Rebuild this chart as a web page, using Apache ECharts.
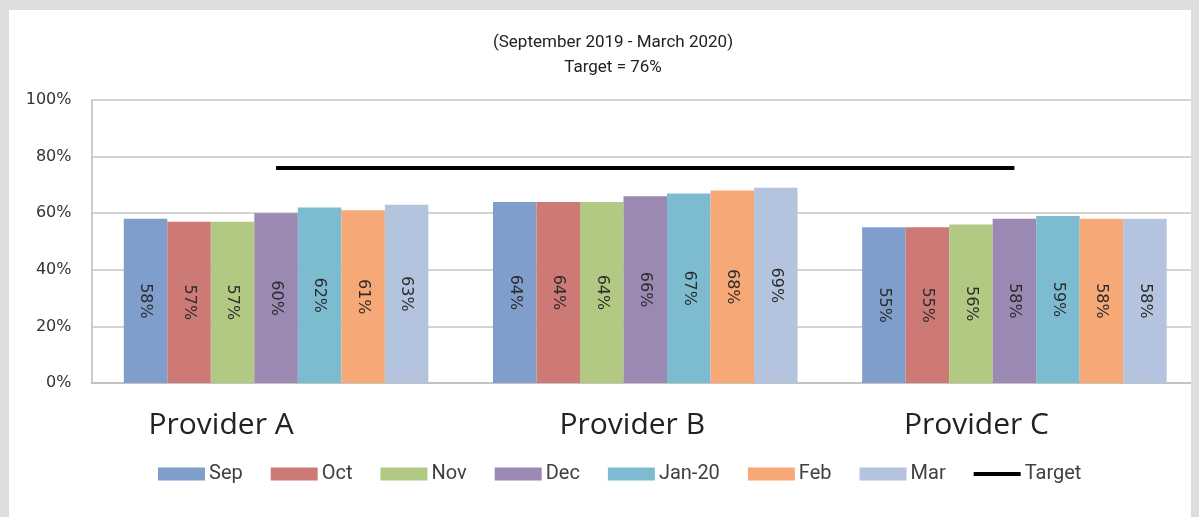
<!DOCTYPE html>
<html>
<head>
<meta charset="utf-8">
<script src="https://cdn.jsdelivr.net/npm/echarts@6/dist/echarts.min.js"></script>
<style>
  html, body { margin: 0; padding: 0; background: #dcdddf; }
  .panel {
    position: absolute; left: 9px; top: 10px; width: 1182px; height: 507px;
    background: #fff; overflow: hidden;
  }
  #chart { position: absolute; left: -9px; top: -10px; width: 1199px; height: 517px; }
</style>
</head>
<body>
<div class="panel"><div id="chart"></div></div>
<script>
const categories = ['Provider A', 'Provider B', 'Provider C']
const months = ['Sep', 'Oct', 'Nov', 'Dec', 'Jan-20', 'Feb', 'Mar']
const sep = [58, 64, 55]
const oct = [57, 64, 55]
const nov = [57, 64, 56]
const dec = [60, 66, 58]
const jan = [62, 67, 59]
const feb = [61, 68, 58]
const mar = [63, 69, 58]
const target = [76, 76, 76]
const monthValues = [sep, oct, nov, dec, jan, feb, mar]
const colors = ['#7f9ecb', '#cd7a77', '#b1c983', '#9b88b3', '#7dbcd0', '#f6a877', '#b5c4de']

const chart = echarts.init(document.getElementById('chart'))

const barSeries = months.map((m, i) => ({
  name: m,
  type: 'bar',
  data: monthValues[i],
  barGap: 0,
  barCategoryGap: '17.5%',
  itemStyle: { color: colors[i] },
  label: {
    show: true,
    position: 'inside',
    rotate: -90,
    formatter: '{c}%',
    color: '#2b2b2b',
    fontFamily: 'DejaVu Sans',
    fontSize: 16
  }
}))

chart.setOption({
  animation: false,
  title: {
    text: '(September 2019 - March 2020)\nTarget = 76%',
    left: 608,
    top: 25,
    textAlign: 'center',
    textStyle: { fontFamily: 'Roboto', fontWeight: 'normal', fontSize: 17, lineHeight: 25, color: '#222' }
  },
  grid: { left: 91.5, right: -0.5, top: 100, bottom: 134, containLabel: false },
  xAxis: {
    type: 'category',
    data: categories,
    axisLine: { lineStyle: { color: '#bdbdbd', width: 1.5 } },
    axisTick: { show: false },
    axisLabel: {
      margin: 27,
      formatter: (v, i) => '{p' + i + '|' + v + '}',
      rich: {
        p0: { fontFamily: 'Open Sans', fontSize: 30, color: '#222', padding: [0, 110, 0, 0] },
        p1: { fontFamily: 'Open Sans', fontSize: 30, color: '#222', padding: [0, 26, 0, 0] },
        p2: { fontFamily: 'Open Sans', fontSize: 30, color: '#222', padding: [0, 76, 0, 0] }
      }
    }
  },
  yAxis: {
    type: 'value',
    min: 0,
    max: 100,
    interval: 20,
    axisLine: { show: true, lineStyle: { color: '#bdbdbd', width: 1.5 } },
    axisTick: { show: false },
    splitLine: { lineStyle: { color: '#c6c6c6', width: 1.5 } },
    axisLabel: {
      formatter: '{value}%',
      margin: 20,
      color: '#333',
      fontFamily: 'DejaVu Sans',
      fontSize: 16
    }
  },
  legend: {
    left: 158,
    top: 464,
    padding: 0,
    itemWidth: 47,
    itemHeight: 13,
    itemGap: 28,
    textStyle: { fontFamily: 'Roboto', fontSize: 20, color: '#404040', padding: [0, 0, 0, -1] },
    data: months.map(m => ({ name: m, icon: 'rect' })).concat([
      { name: 'Target', icon: 'path://M0,0H50V4H0Z', itemStyle: { color: '#000' } }
    ])
  },
  series: barSeries.concat([{
    name: 'Target',
    type: 'line',
    data: target,
    symbol: 'none',
    lineStyle: { color: '#000', width: 4 },
    itemStyle: { color: '#000' },
    z: 5
  }])
})
</script>
</body>
</html>
